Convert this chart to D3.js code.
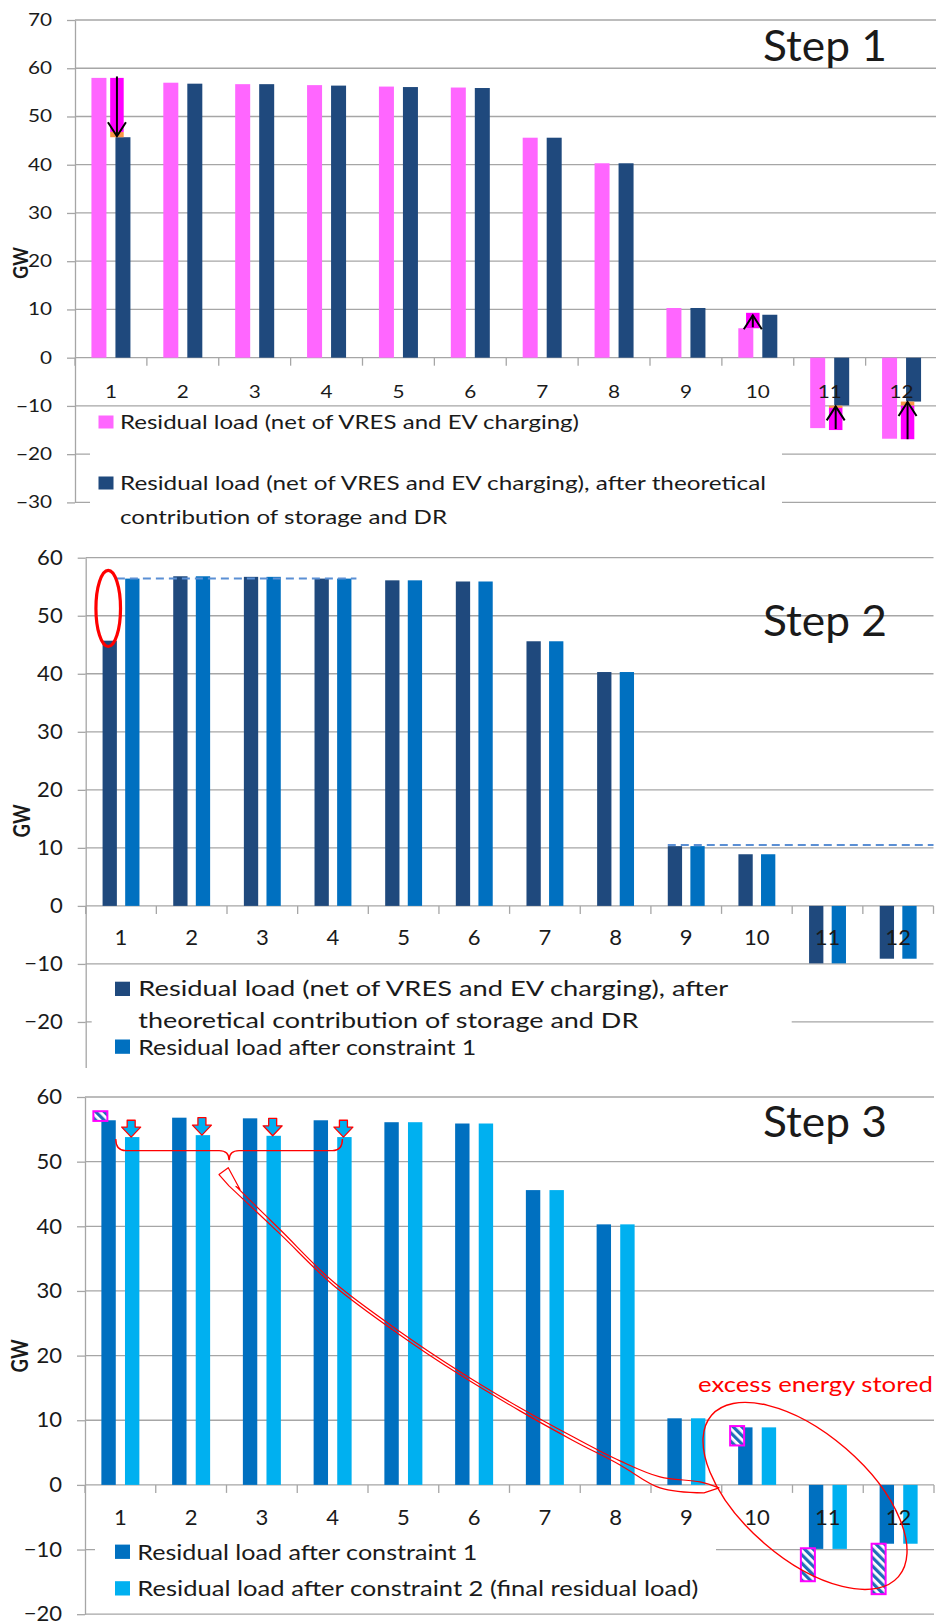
<!DOCTYPE html>
<html><head><meta charset="utf-8">
<script src="https://cdn.jsdelivr.net/npm/d3@7"></script>
<style>
html,body{margin:0;padding:0;background:#fff;}
svg{display:block;}
</style></head><body>
<svg id="chart" width="936" height="1622"></svg>
<script>
// ---------------- DATA ----------------
const categories = ["1","2","3","4","5","6","7","8","9","10","11","12"];
const residualLoad            = [58.0, 57.0, 56.7, 56.5, 56.2, 56.0, 45.6, 40.3, 10.3, 6.1, -14.6, -16.8];
const residualAfterTheoretical= [45.7, 56.8, 56.7, 56.4, 56.1, 55.9, 45.6, 40.3, 10.3, 8.9, -9.9, -9.1];
const residualAfterConstr1    = [56.4, 56.8, 56.7, 56.4, 56.1, 55.9, 45.6, 40.3, 10.3, 8.9, -9.9, -9.1];
const residualAfterConstr2    = [53.8, 54.1, 54.0, 53.8, 56.1, 55.9, 45.6, 40.3, 10.3, 8.9, -9.9, -9.1];

const ticksStep1 = [-30,-20,-10,0,10,20,30,40,50,60,70];
const ticksStep2 = [-20,-10,0,10,20,30,40,50,60];
const ticksStep3 = [-20,-10,0,10,20,30,40,50,60];

const stepTitles = ["Step 1","Step 2","Step 3"];
const legendStep1 = [["Residual load (net of VRES and EV charging)"],
                     ["Residual load (net of VRES and EV charging), after theoretical","contribution of storage and DR"]];
const legendStep2 = [["Residual load (net of VRES and EV charging), after","theoretical contribution of storage and DR"],
                     ["Residual load after constraint 1"]];
const legendStep3 = [["Residual load after constraint 1"],
                     ["Residual load after constraint 2 (final residual load)"]];
const excessLabel = "excess energy stored";

// Step 1 annotations: [category, from value, to value]
const step1Magenta = [[1, 58.0, 46.8], [10, 6.1, 9.3], [11, -10.3, -15.0], [12, -9.9, -16.9]];
const step1Orange  = [[1, 46.8, 45.7], [11, -9.95, -10.4], [12, -9.1, -9.9]];
const step1Arrows  = [[1, 58.3, 45.9], [10, 6.3, 8.8], [11, -14.8, -10.1], [12, -16.9, -9.2]];
// Step 2 annotations
const step2Levels  = [[1, 4, 56.4], [9, 12, 10.5]];   // [from cat, to cat, value]
const step2Oval    = [1, 44.7, 57.8];                 // [cat, low, high]
// Step 3 annotations
const step3Stored  = [[1, 56.3, 57.8], [10, 6.1, 9.1], [11, -9.8, -14.9], [12, -9.1, -16.9]];
const step3Shifted = [1, 2, 3, 4];
const step3Brace   = [1, 4, 53.5, 51.7, 50.2];        // [from cat, to cat, top, mid, tip]
const ribbonUpper  = [[2.634,46.17],[3.256,39.5],[4.005,31.45],[4.952,23.7],[5.8,17.51],[6.648,11.93],[7.397,7.44],[8.062,3.72],[8.627,1.24],[9.193,0.46],[9.461,-0.46]];
const ribbonLower  = [[9.249,-1.24],[8.627,-0.46],[8.062,3.09],[7.397,6.88],[6.648,11.45],[5.8,17.02],[4.952,23.2],[4.005,30.93],[3.256,38.82],[2.535,46.25]];
const ribbonHead   = [[2.394,48.0],[2.525,49.06],[2.691,45.7]];
const storedEllipse= [10.677, -1.70];

// ---------------- DRAWING ----------------
const svg = d3.select("#chart");
const FONT = "Lato, 'Open Sans', sans-serif";
const GRID = "#a6a6a6";
const TXT = "#1a1a1a";
const RED = "#ff0000";

const defs = svg.append("defs");
const pat = defs.append("pattern").attr("id","hatch").attr("patternUnits","userSpaceOnUse")
  .attr("width",6).attr("height",6).attr("patternTransform","rotate(-45)");
pat.append("rect").attr("width",6).attr("height",6).attr("fill","#ffffff");
pat.append("rect").attr("width",3.2).attr("height",6).attr("fill","#1f6fb8");

function fit(sel, w) { if (w) sel.attr("textLength", w).attr("lengthAdjust","spacingAndGlyphs"); return sel; }
function stretch(sel, k) {
  if (!k || k === 1) return;
  sel.each(function(){ const w = this.getComputedTextLength(); d3.select(this).attr("textLength", w*k).attr("lengthAdjust","spacingAndGlyphs"); });
}

function drawPanel(o) {
  let g = svg.append("g");
  if (o.clip) {
    defs.append("clipPath").attr("id","clip"+o.id).append("rect")
      .attr("x",0).attr("y",o.clip[0]).attr("width",936).attr("height",o.clip[1]-o.clip[0]);
    g.attr("clip-path",`url(#clip${o.id})`);
  }
  const x = d3.scaleBand().domain(categories).range(o.xRange).padding(0);
  const B = x.bandwidth();
  const keys = o.series.map(s => s.key);
  const step = 2*o.barGap;
  const pi = 1 - o.barW/step;
  const po = (B/step - 2 + pi)/2;
  const sub = d3.scaleBand().domain(keys).range([0,B]).paddingInner(pi).paddingOuter(po);
  const y = d3.scaleLinear().domain(o.yDomain).range(o.yRange);
  const x0 = o.xRange[0], x1 = o.xRange[1];

  // gridlines
  g.append("g").selectAll("line").data(o.yTicks).join("line")
    .attr("x1", x0).attr("x2", x1).attr("y1", d=>y(d)).attr("y2", d=>y(d))
    .attr("stroke", GRID).attr("stroke-width", 1.3);

  // y axis
  const ya = g.append("g").attr("transform",`translate(${x0},0)`)
    .call(d3.axisLeft(y).tickValues(o.yTicks).tickSize(8).tickSizeOuter(0).tickPadding(15));
  ya.attr("font-family", FONT).attr("font-size", o.tickFont);
  ya.select(".domain").attr("stroke", GRID).attr("stroke-width", 1.3);
  ya.selectAll(".tick line").attr("stroke", GRID).attr("stroke-width", 1.3);
  ya.selectAll(".tick text").attr("fill", TXT);
  stretch(ya.selectAll(".tick text"), o.stretch);

  // legend background (hides gridlines behind it)
  const L = o.legend;
  g.append("rect").attr("x",L.box[0]).attr("y",L.box[1]).attr("width",L.box[2]).attr("height",L.box[3]).attr("fill","#fff");

  // x axis ticks at category boundaries
  const bounds = categories.map(c => x(c)).concat([x1]);
  g.append("g").selectAll("line").data(bounds).join("line")
    .attr("x1", d=>d).attr("x2", d=>d).attr("y1", y(0)).attr("y2", y(0)+8)
    .attr("stroke", GRID).attr("stroke-width", 1.3);

  // bars
  o.series.forEach(s => {
    g.append("g").selectAll("rect").data(s.values.map((v,i)=>({c:categories[i], v}))).join("rect")
      .attr("x", d => x(d.c) + sub(s.key))
      .attr("width", sub.bandwidth())
      .attr("y", d => y(Math.max(0,d.v)))
      .attr("height", d => Math.abs(y(d.v) - y(0)))
      .attr("fill", s.color);
  });

  // x labels
  const xl = g.append("g").selectAll("text").data(categories).join("text")
    .attr("x", d => x(d) + B/2).attr("y", y(0) + o.labelOffset).attr("dy","0.36em")
    .attr("text-anchor","middle").attr("font-family",FONT).attr("font-size",o.tickFont).attr("fill",TXT)
    .text(d=>d);
  stretch(xl, o.stretch);

  // annotations
  if (o.annot) o.annot(g, x, y, sub, B);

  // step title
  fit(g.append("text").attr("x",o.title.x).attr("y",o.title.y).attr("font-family",FONT)
    .attr("font-size",o.title.size).attr("fill",TXT).text(o.title.text), o.title.w);

  // GW label
  fit(g.append("text").attr("transform",`translate(${o.gw.x},${o.gw.y}) rotate(-90)`)
    .attr("text-anchor","middle").attr("dy","0.36em").attr("font-family",FONT).attr("font-weight","bold")
    .attr("font-size",o.gw.size).attr("fill",TXT).text("GW"), o.gw.w);

  // legend entries
  L.items.forEach((it, k) => {
    g.append("rect").attr("x",L.sq[0]).attr("y",it.sqY).attr("width",L.sq[1]).attr("height",L.sq[2])
      .attr("fill", o.series[k].color);
    o.legendText[k].forEach((t,i) => {
      fit(g.append("text").attr("x",L.tx).attr("y",it.base[i]).attr("font-family",FONT)
        .attr("font-size",L.size).attr("fill",TXT).text(t), it.w[i]);
    });
  });
  return {x, y, sub, B};
}

// ---------- Step 1 ----------
drawPanel({
  id: 1, xRange:[75, 937.5], yDomain:[-30,70], yRange:[502.4, 20], yTicks: ticksStep1,
  barW: 15, barGap: 12, tickFont: 17, stretch: 1.22, labelOffset: 34,
  series: [{key:"a", values: residualLoad, color:"#ff66ff"},
           {key:"b", values: residualAfterTheoretical, color:"#1f497d"}],
  legendText: legendStep1,
  legend: {box:[90, 409, 692, 125], sq:[98.5, 15, 13], tx:120, size:20,
           items:[{sqY:415.5, base:[429], w:[459]}, {sqY:476.5, base:[490, 523.5], w:[646, 327]}]},
  title: {text: stepTitles[0], x:763, y:61, size:43, w:124},
  gw: {x:20, y:263, size:21, w:32},
  annot: (g, x, y, sub, B) => {
    const ox = c => x(String(c)) + B/2 + (c === 10 ? -5 : 6);
    const w = 13.5;
    const seg = (data, color) => g.append("g").selectAll("rect").data(data).join("rect")
      .attr("x", d => ox(d[0]) - w/2).attr("width", w)
      .attr("y", d => y(Math.max(d[1], d[2]))).attr("height", d => Math.abs(y(d[1]) - y(d[2])))
      .attr("fill", color);
    seg(step1Magenta, "#ff00ff");
    seg(step1Orange, "#f79646");
    const ag = g.append("g").attr("stroke","#000").attr("stroke-width",2).attr("fill","none");
    step1Arrows.forEach(d => {
      const cx = ox(d[0]), ys = y(d[1]), ye = y(d[2]);
      const back = ys > ye ? 14 : -14;
      ag.append("line").attr("x1",cx).attr("x2",cx).attr("y1",ys).attr("y2",ye);
      ag.append("path").attr("d",`M${cx-9},${ye+back}L${cx},${ye}L${cx+9},${ye+back}`);
    });
  }
});

// ---------- Step 2 ----------
drawPanel({
  id: 2, clip:[532, 1068], xRange:[85.7, 933.5], yDomain:[-30,60], yRange:[1080, 557.7], yTicks: ticksStep2,
  barW: 14.3, barGap: 11.3, tickFont: 21, stretch: 1.05, labelOffset: 32,
  series: [{key:"a", values: residualAfterTheoretical, color:"#1f497d"},
           {key:"b", values: residualAfterConstr1, color:"#0070c0"}],
  legendText: legendStep2,
  legend: {box:[91.7, 970, 700, 98], sq:[115, 15, 14.3], tx:138.3, size:22,
           items:[{sqY:981.7, base:[996, 1028], w:[590, 500]}, {sqY:1039.5, base:[1054.5], w:[338]}]},
  title: {text: stepTitles[1], x:763, y:636, size:43, w:124},
  gw: {x:21.7, y:821, size:22, w:33},
  annot: (g, x, y, sub, B) => {
    const bw = sub.bandwidth();
    const dg = g.append("g").attr("stroke","#5b8fd4").attr("stroke-width",2).attr("stroke-dasharray","8,5");
    step2Levels.forEach(d => {
      const xa = d[0] === 1 ? x(String(d[0])) + sub("a") + bw : x(String(d[0])) + sub("a");
      const xb = d[1] === 12 ? x.range()[1] : x(String(d[1])) + sub("b") + bw + 5;
      dg.append("line").attr("x1",xa).attr("x2",xb).attr("y1",y(d[2])).attr("y2",y(d[2]));
    });
    const c = String(step2Oval[0]);
    g.append("ellipse").attr("cx", x(c) + sub("a") + bw/2 - 1.5)
      .attr("cy", (y(step2Oval[1]) + y(step2Oval[2]))/2)
      .attr("rx", 12.3).attr("ry", (y(step2Oval[1]) - y(step2Oval[2]))/2)
      .attr("fill","none").attr("stroke",RED).attr("stroke-width",3.2);
  }
});

// ---------- Step 3 ----------
drawPanel({
  id: 3, xRange:[85, 934], yDomain:[-20,60], yRange:[1614.2, 1097], yTicks: ticksStep3,
  barW: 14.4, barGap: 11.8, tickFont: 21, stretch: 1.05, labelOffset: 33,
  series: [{key:"a", values: residualAfterConstr1, color:"#0070c0"},
           {key:"b", values: residualAfterConstr2, color:"#00b0f0"}],
  legendText: legendStep3,
  legend: {box:[95, 1532, 621, 74], sq:[115, 15, 14.3], tx:137.3, size:22,
           items:[{sqY:1544.6, base:[1559.7], w:[340]}, {sqY:1581.2, base:[1596.3], w:[561]}]},
  title: {text: stepTitles[2], x:763, y:1137, size:43, w:124},
  gw: {x:20, y:1356, size:22, w:33},
  annot: (g, x, y, sub, B) => {
    const bw = sub.bandwidth();
    const xp = c => x.range()[0] + (c - 0.5) * B;
    // stored-energy hatched markers
    g.append("g").selectAll("rect").data(step3Stored).join("rect")
      .attr("x", d => x(String(d[0])) + B/2 - 20 - 7).attr("width", 14)
      .attr("y", d => y(Math.max(d[1],d[2]))).attr("height", d => Math.abs(y(d[1]) - y(d[2])))
      .attr("fill","url(#hatch)").attr("stroke","#ff00ff").attr("stroke-width",2);
    // block arrows (constraint 1 -> constraint 2)
    step3Shifted.forEach(c => {
      const i = c - 1;
      const cx = x(String(c)) + sub("b") + bw/2 - 1;
      const yt = y(residualAfterConstr1[i]), yb = y(residualAfterConstr2[i]);
      const h = Math.min(10, (yb - yt) * 0.6);
      g.append("path").attr("d",
        `M${cx-4},${yt}L${cx+4},${yt}L${cx+4},${yb-h}L${cx+9.5},${yb-h}L${cx},${yb}L${cx-9.5},${yb-h}L${cx-4},${yb-h}Z`)
        .attr("fill","#00b0f0").attr("stroke",RED).attr("stroke-width",1.3).attr("stroke-linejoin","round");
    });
    // curly brace
    const xa = x(String(step3Brace[0])) + sub("a") + bw;
    const xb = x(String(step3Brace[1])) + sub("b") + bw/2 - 2;
    const xm = (xa + xb)/2, yt = y(step3Brace[2]), ym = y(step3Brace[3]), ytip = y(step3Brace[4]);
    g.append("path").attr("d",
      `M${xa},${yt}Q${xa},${ym} ${xa+10},${ym}L${xm-10},${ym}Q${xm},${ym} ${xm},${ytip}Q${xm},${ym} ${xm+10},${ym}L${xb-10},${ym}Q${xb},${ym} ${xb},${yt}`)
      .attr("fill","none").attr("stroke",RED).attr("stroke-width",1.4);
    // curved ribbon arrow
    const line = d3.line().x(d => xp(d[0])).y(d => y(d[1])).curve(d3.curveCatmullRom);
    const up = line(ribbonUpper);
    const lo = line(ribbonLower).replace(/^M/, "L");
    const hd = ribbonHead.map(d => `L${xp(d[0])},${y(d[1])}`).join("");
    g.append("path").attr("d", up + lo + hd + "Z")
      .attr("fill","none").attr("stroke",RED).attr("stroke-width",1.2).attr("stroke-linejoin","round");
    // ellipse around stored energy
    const ex = xp(storedEllipse[0]), ey = y(storedEllipse[1]);
    g.append("ellipse").attr("cx",0).attr("cy",0).attr("rx",123.5).attr("ry",62.5)
      .attr("transform",`translate(${ex},${ey}) rotate(40.8)`)
      .attr("fill","none").attr("stroke",RED).attr("stroke-width",1.4);
    fit(g.append("text").attr("x", x.range()[1] - 1).attr("y", 1392).attr("text-anchor","end")
      .attr("font-family",FONT).attr("font-size",22).attr("fill",RED).text(excessLabel), 235);
  }
});
</script>
</body></html>
